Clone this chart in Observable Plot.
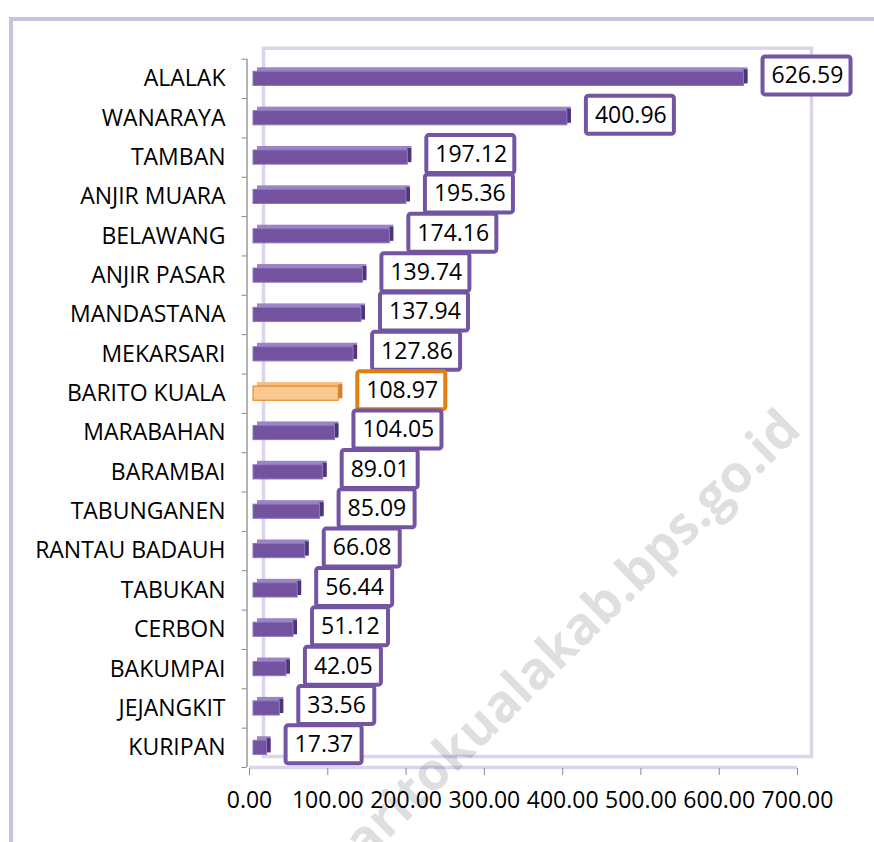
<!DOCTYPE html>
<html>
<head>
<meta charset="utf-8">
<script src="https://cdn.jsdelivr.net/npm/d3@7"></script>
<script src="https://cdn.jsdelivr.net/npm/@observablehq/plot@0.6"></script>
<style>
  html, body { margin: 0; padding: 0; background: #fff; }
  #wrap { position: relative; width: 874px; height: 842px; overflow: hidden; font-family: "Open Sans", sans-serif; }
  #border { position: absolute; left: 9px; top: 17px; width: 900px; height: 900px;
            border-left: 4px solid #CBBFDE; border-top: 4px solid #CBBFDE; pointer-events: none; }
  #wm { position: absolute; left: 0; top: 0; pointer-events: none; }
  #chart { position: absolute; left: 0; top: 0; }
</style>
</head>
<body>
<div id="wrap">
  <div id="chart"></div>
  <div id="border"></div>
  <svg id="wm" width="874" height="842">
    <text transform="translate(803,432) rotate(-44.5)" text-anchor="end"
          font-family="Open Sans" font-weight="bold" font-size="52"
          fill="#000" fill-opacity="0.125">https://baritokualakab.bps.go.id</text>
  </svg>
</div>
<script>
const categories = ["ALALAK","WANARAYA","TAMBAN","ANJIR MUARA","BELAWANG","ANJIR PASAR","MANDASTANA","MEKARSARI","BARITO KUALA","MARABAHAN","BARAMBAI","TABUNGANEN","RANTAU BADAUH","TABUKAN","CERBON","BAKUMPAI","JEJANGKIT","KURIPAN"];
const values = [626.59,400.96,197.12,195.36,174.16,139.74,137.94,127.86,108.97,104.05,89.01,85.09,66.08,56.44,51.12,42.05,33.56,17.37];
const highlight = "BARITO KUALA";
const xTicks = [0,100,200,300,400,500,600,700];

const data = categories.map((name, i) => ({
  name, i, value: values[i], hl: name === highlight, label: values[i].toFixed(2)
}));
const idx = categories.map((_, i) => i);
const edges = d3.range(-0.5, categories.length, 1);
const data6 = data.filter(d => d.label.length >= 6);
const data5 = data.filter(d => d.label.length < 6);

const h = 0.18;
const lav = "#DCD3EC";
const gray = "#8a8a8a";
const boxStroke = d => d.hl ? "#E07F12" : "#7355A2";

function boxMark(arr, w) {
  return Plot.rect(arr, {
    x1: "value", x2: "value", y1: "i", y2: "i",
    insetLeft: 23, insetRight: -(23 + w), insetTop: -22, insetBottom: -16,
    rx: 2.5, fill: "white", stroke: boxStroke, strokeWidth: 4
  });
}

const chart = Plot.plot({
  width: 874, height: 842,
  marginLeft: 249, marginRight: 77, marginTop: 58.7, marginBottom: 75,
  x: {domain: [0, 700], axis: null},
  y: {domain: [categories.length - 0.5, -0.5], axis: null},
  color: {type: "identity"},
  style: {background: "transparent", fontFamily: "Open Sans", color: "#000"},
  marks: [
    Plot.frame({stroke: lav, strokeWidth: 3.5, dx: 14, dy: -11}),
    Plot.ruleY([categories.length - 0.5], {x1: 0, x2: 700, stroke: lav, strokeWidth: 3.5}),
    Plot.ruleX([0], {y1: -0.5, y2: categories.length - 0.5, dx: -2.5, stroke: gray, strokeWidth: 1.3}),
    Plot.axisY(edges, {tickSize: 5, fill: "none", stroke: gray, dx: -2.5, tickFormat: () => "", label: null}),
    Plot.axisY(idx, {tickSize: 0, tickPadding: 24, tickFormat: i => categories[i], fontSize: 23, fill: "#000", label: null}),
    Plot.axisX(xTicks, {tickSize: 7, tickPadding: 16, dy: 1, tickFormat: d => d.toFixed(2), fontSize: 23, stroke: gray, fill: "#000", label: null}),
    // top / back face
    Plot.rect(data, {x1: 0, x2: "value", y1: d => d.i - h, y2: d => d.i + h, dx: 8, dy: -4,
      fill: d => d.hl ? "#F6BC82" : "#9A86C5"}),
    // right face
    Plot.rect(data, {x1: "value", x2: "value", y1: d => d.i - h, y2: d => d.i + h, insetRight: -4, dx: 4, dy: -2,
      fill: d => d.hl ? "#C8843F" : "#4E3579"}),
    // front face
    Plot.rect(data, {x1: 0, x2: "value", y1: d => d.i - h, y2: d => d.i + h, dx: 4,
      fill: d => d.hl ? "#FAC890" : "#7353A0", stroke: d => d.hl ? "#E27F14" : "#8E77BA", strokeWidth: 1}),
    boxMark(data6, 88),
    boxMark(data5, 76),
    Plot.text(data, {x: "value", y: "i", text: "label", dx: 31.5, dy: -3, textAnchor: "start",
      fontSize: 23, fill: "#000"})
  ]
});
document.getElementById("chart").appendChild(chart);
</script>
</body>
</html>
